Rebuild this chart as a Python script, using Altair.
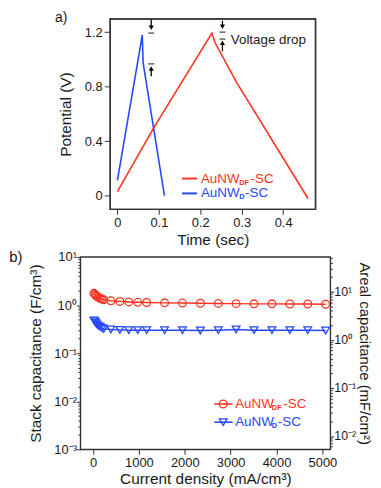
import altair as alt
import pandas as pd

FONT = "Liberation Sans"
RED = "#ff3322"
BLUE = "#2448ff"
INK = "#1a1a1a"
FRAME = "#333333"

# ---------------- panel a: charge / discharge ----------------
red_time = [0.0, 0.088, 0.228, 0.236, 0.288, 0.460]
red_volt = [0.03, 0.50, 1.193, 1.12, 0.829, -0.02]
blue_time = [0.0, 0.060, 0.062, 0.1135]
blue_volt = [0.113, 1.178, 0.975, 0.0]

arrow_time = [0.0816, 0.0816, 0.2535, 0.2535]
arrow_dir = ["down", "up", "down", "up"]
arrow_bar = [1.193, 0.967, 1.200, 1.149]
arrow_tail = [1.290, 0.877, 1.284, 1.059]
arrow_head = [1.232, 0.933, 1.239, 1.122]

a_x_domain = [-0.0175, 0.478]
a_y_domain = [-0.0996, 1.297]
a_x_ticks = [0, 0.1, 0.2, 0.3, 0.4]
a_y_ticks = [0, 0.4, 0.8, 1.2]

# legend anchors (data coordinates)
leg_a_line_t = [0.156, 0.156]
leg_a_line_t2 = [0.192, 0.192]
leg_a_text_t = [0.2016, 0.2016]
leg_a_v = [0.126, 0.017]

# ---------------- panel b: capacitance ----------------
current = [19.5, 39, 58.5, 78, 117, 156, 195, 234, 390, 585, 780, 975, 1170,
           1560, 1950, 2340, 2730, 3120, 3510, 3900, 4290, 4680, 5070]
stack_df = [1.75, 1.68, 1.60, 1.52, 1.45, 1.38, 1.33, 1.29, 1.23, 1.19, 1.16, 1.14, 1.13,
            1.11, 1.10, 1.09, 1.08, 1.07, 1.06, 1.06, 1.05, 1.05, 1.04]
stack_d = [0.48, 0.46, 0.43, 0.40, 0.37, 0.35, 0.33, 0.32, 0.31, 0.305, 0.30, 0.30, 0.30,
           0.30, 0.30, 0.295, 0.30, 0.31, 0.30, 0.30, 0.30, 0.30, 0.295]

b_x_ticks = [0, 1000, 2000, 3000, 4000, 5000]
left_log_ticks = [m * 10.0 ** e for e in range(-3, 1) for m in range(1, 10)] + [10.0]
right_log_ticks = ([m * 1e-3 for m in range(6, 10)] +
                   [m * 10.0 ** e for e in range(-2, 1) for m in range(1, 10)] +
                   [10.0, 20.0, 30.0, 40.0, 50.0])
right_label_vals = [0.01, 0.1, 1, 10]

leg_b_line_x = [2644, 2644]
leg_b_line_x2 = [3040, 3040]
leg_b_mark_x = [2838, 2838]
leg_b_text_x = [3098, 3098]
leg_b_y = [0.00875, 0.00367]

# ---------------- helpers ----------------
LOG = "(log(datum.value)/LN10)"
IS_MAJOR = f"abs({LOG} - round({LOG})) < 0.001"
SUP = (f"round({LOG}) == 1 ? '10\u00b9' : round({LOG}) == 0 ? '10\u2070' : "
       f"round({LOG}) == -1 ? '10\u207b\u00b9' : round({LOG}) == -2 ? '10\u207b\u00b2' : '10\u207b\u00b3'")
LABEL_EXPR = f"{IS_MAJOR} ? ({SUP}) : ''"
DEC_EXPR = "datum.value == 0 ? '0' : format(datum.value, '.1f')"

# ---------------- panel a ----------------
ax_a_x = alt.Axis(values=a_x_ticks, labelExpr=DEC_EXPR, title="Time (sec)", tickSize=5,
                  labelPadding=2, titlePadding=3)
ax_a_y = alt.Axis(values=a_y_ticks, labelExpr=DEC_EXPR, title="Potential (V)", tickSize=6,
                  labelPadding=2, titlePadding=11)
Xa = alt.X("t:Q", scale=alt.Scale(domain=a_x_domain, nice=False, zero=False), axis=ax_a_x)
Ya = alt.Y("v:Q", scale=alt.Scale(domain=a_y_domain, nice=False, zero=False), axis=ax_a_y)

red_a = pd.DataFrame({"t": red_time, "v": red_volt})
blue_a = pd.DataFrame({"t": blue_time, "v": blue_volt})
arrows = pd.DataFrame({"t": arrow_time, "dir": arrow_dir, "bar": arrow_bar,
                       "tail": arrow_tail, "head": arrow_head})

frame_df = pd.DataFrame({"t": [a_x_domain[0]], "t2": [a_x_domain[1]],
                         "v": [a_y_domain[0]], "v2": [a_y_domain[1]]})
frame_a = alt.Chart(frame_df).mark_rect(
    filled=False, fillOpacity=0, stroke=FRAME, strokeWidth=1.4).encode(
    x=Xa, x2="t2:Q", y=Ya, y2="v2:Q")

line_red = alt.Chart(red_a).mark_line(color=RED, strokeWidth=1.6).encode(x=Xa, y=Ya)
line_blue = alt.Chart(blue_a).mark_line(color=BLUE, strokeWidth=1.6).encode(x=Xa, y=Ya)

shafts = alt.Chart(arrows).transform_calculate(v="datum.tail", v2="datum.head").mark_rule(
    color="black", strokeWidth=1.3).encode(x=Xa, y=Ya, y2="v2:Q")
heads = alt.Chart(arrows).transform_calculate(v="datum.head").mark_point(
    filled=True, color="black", opacity=1, size=26).encode(
    x=Xa, y=Ya,
    shape=alt.Shape("dir:N", scale=alt.Scale(domain=["down", "up"],
                                             range=["triangle-down", "triangle-up"]), legend=None))
bars = alt.Chart(arrows).transform_calculate(v="datum.bar").mark_tick(
    orient="horizontal", color="black", size=6, thickness=1.3).encode(x=Xa, y=Ya)

vdrop = alt.Chart(pd.DataFrame({"t": [0.2736], "v": [1.142], "txt": ["Voltage drop"]})).mark_text(
    align="left", baseline="middle", font=FONT, fontSize=13.5, color=INK).encode(
    x=Xa, y=Ya, text="txt:N")

leg_a = pd.DataFrame({"t": leg_a_line_t, "t2": leg_a_line_t2, "v": leg_a_v,
                      "c": [RED, BLUE]})
leg_a_lines = alt.Chart(leg_a).mark_rule(strokeWidth=2).encode(
    x=Xa, x2="t2:Q", y=Ya, color=alt.Color("c:N", scale=None))


def legend_words(df, xenc, yenc, sub_dx, tail_dx):
    layers = []
    base = alt.Chart(df)
    layers.append(base.mark_text(align="left", baseline="middle", font=FONT, fontSize=13.5).encode(
        x=xenc, y=yenc, text="main:N", color=alt.Color("c:N", scale=None)))
    layers.append(base.mark_text(align="left", baseline="middle", font=FONT, fontSize=7.5,
                                 fontWeight="bold", dx=sub_dx, dy=4).encode(
        x=xenc, y=yenc, text="sub:N", color=alt.Color("c:N", scale=None)))
    for i, dxv in enumerate(tail_dx):
        layers.append(alt.Chart(df.iloc[[i]]).mark_text(
            align="left", baseline="middle", font=FONT, fontSize=13.5, dx=dxv).encode(
            x=xenc, y=yenc, text="tail:N", color=alt.Color("c:N", scale=None)))
    return layers


leg_a_txt = pd.DataFrame({"t": leg_a_text_t, "v": leg_a_v, "c": [RED, BLUE],
                          "main": ["AuNW", "AuNW"], "sub": ["DF", "D"], "tail": ["-SC", "-SC"]})
leg_a_words = legend_words(leg_a_txt, Xa, Ya, 38.5, [50, 44.5])

lab_a = alt.Chart(pd.DataFrame({"s": ["a)"]})).mark_text(
    align="left", baseline="middle", font=FONT, fontSize=14, color=INK).encode(
    x=alt.value(-55.7), y=alt.value(-0.5), text="s:N")

panel_a = alt.layer(frame_a, line_red, line_blue, shafts, heads, bars, vdrop, leg_a_lines,
                    *leg_a_words, lab_a).properties(width=207, height=192)

spacer = alt.Chart(pd.DataFrame({"s": [0]})).mark_point(opacity=0, size=1).encode(
    x=alt.value(1), y=alt.value(100)).properties(
    width=29.5, height=192, view=alt.ViewBackground(stroke="transparent"))

# ---------------- panel b ----------------
ax_b_x = alt.Axis(values=b_x_ticks, format="d", title="Current density (mA/cm\u00b3)",
                  tickSize=5, labelPadding=2, titlePadding=2)
ax_b_y = alt.Axis(values=left_log_ticks, labelExpr=LABEL_EXPR,
                  title="Stack capacitance (F/cm\u00b3)",
                  tickSize={"condition": {"test": IS_MAJOR, "value": 4}, "value": 2.5},
                  labelPadding=0, titlePadding=10, labelOverlap=False)
ax_b_r = alt.Axis(values=right_log_ticks, labelExpr=LABEL_EXPR, orient="right",
                  title="Areal capacitance (mF/cm\u00b2)", titleFontSize=15,
                  tickSize={"condition": {"test": IS_MAJOR, "value": 3.5}, "value": 2},
                  labelPadding=0, titlePadding=1, labelOverlap=False, labelFontSize=12.5)

Xb = alt.X("x:Q", scale=alt.Scale(domain=[-275, 5173], nice=False, zero=False), axis=ax_b_x)
Yb = alt.Y("y:Q", scale=alt.Scale(type="log", domain=[0.001, 10], nice=False), axis=ax_b_y)

df_red = pd.DataFrame({"x": current, "y": stack_df})
df_blue = pd.DataFrame({"x": current, "y": stack_d})

b_red_line = alt.Chart(df_red).mark_line(color=RED, strokeWidth=1.4).encode(x=Xb, y=Yb)
b_red_pts = alt.Chart(df_red).mark_point(shape="circle", filled=False, color=RED, size=60,
                                         strokeWidth=1.3, opacity=1).encode(x=Xb, y=Yb)
b_blue_line = alt.Chart(df_blue).mark_line(color=BLUE, strokeWidth=1.4).encode(x=Xb, y=Yb)
b_blue_pts = alt.Chart(df_blue).mark_point(shape="triangle-down", filled=False, color=BLUE,
                                           size=60, strokeWidth=1.3, opacity=1).encode(x=Xb, y=Yb)

leg_b = pd.DataFrame({"x": leg_b_line_x, "x2": leg_b_line_x2, "y": leg_b_y, "c": [RED, BLUE]})
leg_b_lines = alt.Chart(leg_b).mark_rule(strokeWidth=1.6).encode(
    x=Xb, x2="x2:Q", y=Yb, color=alt.Color("c:N", scale=None))
leg_b_m = pd.DataFrame({"x": leg_b_mark_x, "y": leg_b_y, "shp": ["circle", "triangle-down"],
                        "c": [RED, BLUE]})
leg_b_marks = alt.Chart(leg_b_m).mark_point(filled=False, size=60, strokeWidth=1.3, opacity=1).encode(
    x=Xb, y=Yb, color=alt.Color("c:N", scale=None), shape=alt.Shape("shp:N", scale=None))
leg_b_txt = pd.DataFrame({"x": leg_b_text_x, "y": leg_b_y, "c": [RED, BLUE],
                          "main": ["AuNW", "AuNW"], "sub": ["DF", "D"], "tail": ["-SC", "-SC"]})
leg_b_words = legend_words(leg_b_txt, Xb, Yb, 37, [48.5, 43])

lab_b = alt.Chart(pd.DataFrame({"s": ["b)"]})).mark_text(
    align="left", baseline="middle", font=FONT, fontSize=15, color=INK).encode(
    x=alt.value(-71.7), y=alt.value(0), text="s:N")

left_b = alt.layer(b_red_line, b_blue_line, b_red_pts, b_blue_pts, leg_b_lines, leg_b_marks,
                   *leg_b_words, lab_b)
right_b = alt.Chart(pd.DataFrame({"areal": right_label_vals})).mark_point(opacity=0).encode(
    y=alt.Y("areal:Q", scale=alt.Scale(type="log", domain=[0.00527, 52.7], nice=False),
            axis=ax_b_r))

panel_b = alt.layer(left_b, right_b).resolve_scale(y="independent").properties(
    width=252, height=194)

top = alt.hconcat(spacer, panel_a, spacing=0, bounds="flush")
chart = alt.vconcat(top, panel_b, spacing=0).properties(
    padding={"left": 0, "top": 0, "right": 0, "bottom": 0}
).configure_view(stroke=FRAME, strokeWidth=1.4).configure_axis(
    labelFont=FONT, titleFont=FONT, labelColor=INK, titleColor=INK, tickColor=FRAME,
    tickWidth=1, domain=False, grid=False, labelFontSize=13, titleFontSize=15.5,
    titleFontWeight="normal"
)

chart.save("out.html", embed_options={"renderer": "svg", "actions": False})
